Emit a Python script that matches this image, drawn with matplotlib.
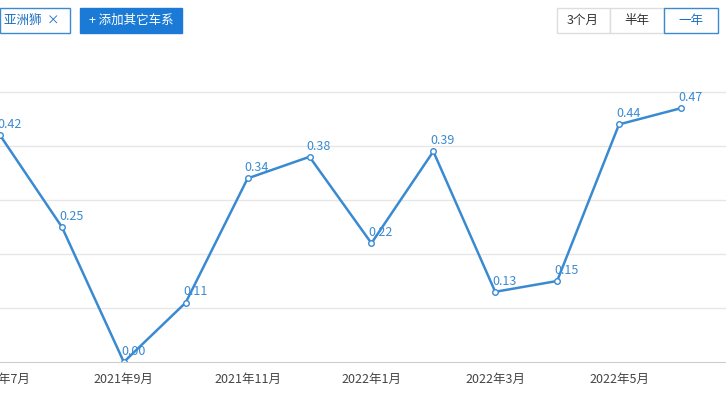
import matplotlib
matplotlib.use("Agg")
import matplotlib.pyplot as plt
from matplotlib.patches import Rectangle

plt.rcParams['font.family'] = ['Noto Sans CJK SC', 'DejaVu Sans']

months = ["2021年7月","2021年8月","2021年9月","2021年10月","2021年11月","2021年12月",
          "2022年1月","2022年2月","2022年3月","2022年4月","2022年5月","2022年6月"]
values = [0.42,0.25,0.00,0.11,0.34,0.38,0.22,0.39,0.13,0.15,0.44,0.47]

W, H = 726, 419
fig = plt.figure(figsize=(W/100, H/100), dpi=100)
ax = fig.add_axes([0, 57/H, 1, (362-40)/H])
x = list(range(len(values)))
c = '#3a8ad2'
ax.plot(x, values, color=c, lw=1.8, marker='o', ms=4, mfc='white', mec=c, mew=1)
for i, v in zip(x, values):
    ax.annotate(f"{v:.2f}", (i, v), xytext=(-2, 3), textcoords='offset points',
                color=c, fontsize=9, ha='left', va='bottom')
ax.set_xlim(2 - 118/62.5, 2 + 608/62.5)
ax.set_ylim(0, 322/540)
ax.set_yticks([0.1,0.2,0.3,0.4,0.5])
ax.yaxis.grid(True, color='#e6e6e6', lw=1)
ax.tick_params(axis='y', length=0, labelleft=False)
ax.set_xticks(x[::2])
ax.set_xticklabels(months[::2], fontsize=9, color='#444444')
ax.tick_params(axis='x', length=0, pad=8)
for s in ['top','right','left']:
    ax.spines[s].set_visible(False)
ax.spines['bottom'].set_color('#cccccc')

# UI elements
def box(x0, y0, w, h, fc, ec):
    fig.patches.append(Rectangle((x0/W, 1-(y0+h)/H), w/W, h/H, transform=fig.transFigure,
                                 facecolor=fc, edgecolor=ec, lw=1))
box(0, 8, 70, 25, 'white', '#3a8ad2')
fig.text(4/W, 1-20.5/H, "亚洲狮  ×", fontsize=9, color='#1a6fc0', va='center')
box(80, 8, 102, 25, '#1a7ad6', '#1a7ad6')
fig.text(131/W, 1-20.5/H, "+ 添加其它车系", fontsize=9, color='white', va='center', ha='center')
box(557, 8, 53, 25, 'white', '#dddddd')
fig.text(583/W, 1-20.5/H, "3个月", fontsize=9, color='#333333', va='center', ha='center')
box(610, 8, 54, 25, 'white', '#dddddd')
fig.text(637/W, 1-20.5/H, "半年", fontsize=9, color='#333333', va='center', ha='center')
box(664, 8, 54, 25, 'white', '#3a8ad2')
fig.text(691/W, 1-20.5/H, "一年", fontsize=9, color='#1a6fc0', va='center', ha='center')

fig.savefig("out.png", dpi=100)
